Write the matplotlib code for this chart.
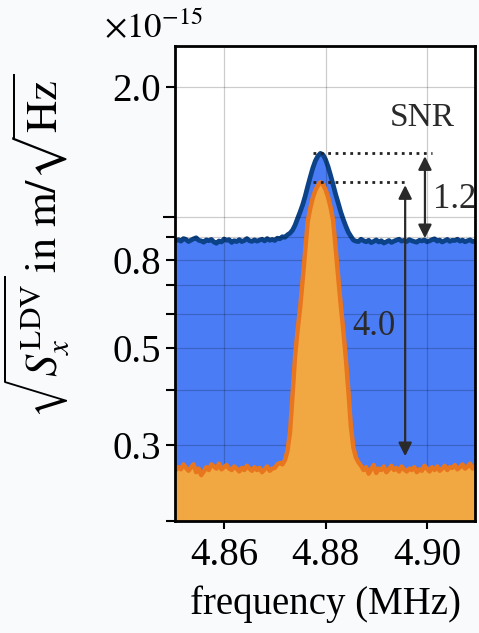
import numpy as np
import matplotlib
matplotlib.use("Agg")
import matplotlib.pyplot as plt

plt.rcParams['font.family'] = ['Liberation Serif', 'DejaVu Serif']
plt.rcParams['mathtext.fontset'] = 'stix'

# frequency grid (MHz), 0.0005 MHz steps from 4.850 to 4.910
freq = np.round(np.arange(121) * 0.0005 + 4.850, 4)

# total spectrum, units of 1e-15 m/sqrt(Hz)
total = [
    0.893, 0.884, 0.889, 0.882, 0.894, 0.890, 0.880, 0.887, 0.893, 0.898,
    0.886, 0.883, 0.877, 0.888, 0.884, 0.890, 0.878, 0.872, 0.883, 0.878,
    0.892, 0.886, 0.889, 0.876, 0.884, 0.880, 0.889, 0.880, 0.885, 0.894,
    0.884, 0.881, 0.888, 0.882, 0.887, 0.891, 0.883, 0.894, 0.886, 0.890,
    0.885, 0.896, 0.893, 0.903, 0.900, 0.912,
    0.920, 0.935, 0.960, 0.995, 1.030, 1.070, 1.120, 1.180, 1.240, 1.300,
    1.350, 1.385, 1.405, 1.395, 1.360, 1.310, 1.250, 1.190, 1.130, 1.080,
    1.030, 0.990, 0.955, 0.925, 0.905,
    0.887, 0.882, 0.880, 0.891, 0.884, 0.879, 0.886, 0.875, 0.881, 0.888,
    0.878, 0.884, 0.873, 0.879, 0.885, 0.876, 0.882, 0.887, 0.891, 0.882,
    0.886, 0.880, 0.889, 0.884, 0.880, 0.877, 0.886, 0.883, 0.888, 0.879,
    0.883, 0.889, 0.893, 0.882, 0.887, 0.878, 0.884, 0.890, 0.881, 0.886,
    0.885, 0.891, 0.882, 0.887, 0.879, 0.884, 0.888, 0.880, 0.883, 0.876,
]

# reference spectrum, units of 1e-15 m/sqrt(Hz)
ref = [
    0.268, 0.262, 0.266, 0.263, 0.270, 0.265, 0.261, 0.266, 0.270, 0.259,
    0.264, 0.255, 0.260, 0.266, 0.262, 0.270, 0.267, 0.264, 0.271, 0.263,
    0.266, 0.269, 0.264, 0.262, 0.267, 0.264, 0.260, 0.265, 0.262, 0.268,
    0.264, 0.261, 0.266, 0.262, 0.265, 0.259, 0.263, 0.267, 0.261, 0.264,
    0.265, 0.270, 0.272,
    0.270, 0.276, 0.290, 0.320, 0.390, 0.480, 0.550, 0.620, 0.720, 0.840,
    0.980, 1.050, 1.110, 1.155, 1.185, 1.205, 1.190, 1.160, 1.115, 1.055,
    0.985, 0.850, 0.730, 0.630, 0.550, 0.475, 0.400, 0.330, 0.295, 0.280,
    0.273,
    0.268, 0.262, 0.266, 0.257, 0.263, 0.269, 0.258, 0.264, 0.262, 0.267,
    0.259, 0.263, 0.268, 0.262, 0.265, 0.260, 0.267, 0.263, 0.260, 0.264,
    0.262, 0.266, 0.259, 0.263, 0.261, 0.268, 0.264, 0.260, 0.266, 0.262,
    0.267, 0.261, 0.264, 0.268, 0.262, 0.266, 0.265, 0.269, 0.263, 0.266,
    0.270, 0.264, 0.267, 0.271, 0.264, 0.267, 0.268,
]

snr_labels = ['1.2', '4.0']
xticks = [4.86, 4.88, 4.90]

total = np.array(total)
ref = np.array(ref)

fig = plt.figure(figsize=(4.79, 6.33), dpi=100, facecolor='#f9fafc')
ax = fig.add_axes([0.365, 0.177, 0.627, 0.750])
ax.set_facecolor('white')

ymin = 0.2
ax.fill_between(freq, ymin, total, color='#4a7cf6', lw=0, zorder=1)
ax.plot(freq, total, color='#0c4288', lw=3.4, zorder=2)
ax.fill_between(freq, ymin, ref, color='#f2a842', lw=0, zorder=3)
ax.plot(freq, ref, color='#e8761e', lw=3.2, zorder=4)

ax.set_yscale('log')
ax.set_xlim(4.8503, 4.9095)
ax.set_ylim(ymin, 2.48)

ax.set_yticks([1.0])
ax.set_yticklabels([''])
minor = [0.2, 0.3, 0.4, 0.5, 0.6, 0.7, 0.8, 0.9, 2.0]
ax.set_yticks(minor, minor=True)
ax.set_yticklabels(['' if m not in (0.3, 0.5, 0.8, 2.0) else '%.1f' % m
                    for m in minor], minor=True)
ax.set_xticks(xticks)
ax.set_xticklabels(['%.2f' % t for t in xticks])

ax.tick_params(axis='both', which='both', labelsize=28, width=1.5,
               direction='out')
ax.tick_params(axis='y', which='major', length=9)
ax.tick_params(axis='y', which='minor', length=6.5)
ax.tick_params(axis='x', which='major', length=5.5, pad=6)

ax.grid(True, which='both', color='black', alpha=0.2, lw=0.9, zorder=5)
ax.set_axisbelow(False)
for s in ax.spines.values():
    s.set_linewidth(2)
    s.set_zorder(10)

ax.set_xlabel('frequency (MHz)', fontsize=28, labelpad=8)
ax.set_ylabel(r'$\sqrt{S_x^{\mathrm{LDV}}}\,\mathrm{in\ m}/\sqrt{\mathrm{Hz}}$',
              fontsize=32)
ax.yaxis.set_label_coords(-0.345, 0.58)
fig.text(0.218, 0.955, r'$\times10^{-15}$', fontsize=25, ha='left',
         va='center')

# SNR annotations
ipk = int(np.argmax(total))
f_pk = freq[ipk]
top_t = total.max()
top_r = ref.max()
floor_t = np.median(total)
floor_r = np.median(ref)

ax.plot([f_pk - 0.0014, 4.9010], [top_t, top_t], ':', color='#222222', lw=2,
        zorder=6)
ax.plot([f_pk - 0.0014, 4.8962], [top_r, top_r], ':', color='#222222', lw=2,
        zorder=6)
arrow = dict(arrowstyle='<|-|>', color='#2a2a2a', lw=1.6,
             mutation_scale=20, shrinkA=0, shrinkB=0)
ax.annotate('', xy=(4.8996, floor_t * 1.01), xytext=(4.8996, top_t * 0.985),
            arrowprops=arrow, zorder=7)
ax.annotate('', xy=(4.8957, floor_r * 1.06), xytext=(4.8957, top_r * 0.985),
            arrowprops=arrow, zorder=7)
ax.text(4.9055, 1.10, snr_labels[0], fontsize=25, ha='center', va='center',
        color='#2a2a2a', zorder=8)
ax.text(4.8896, 0.56, snr_labels[1], fontsize=25, ha='center', va='center',
        color='#2a2a2a', zorder=8)
ax.text(4.8990, 1.70, 'SNR', fontsize=24, ha='center', va='center',
        color='#2a2a2a', zorder=8)

fig.savefig('out.png', dpi=100, facecolor=fig.get_facecolor())
